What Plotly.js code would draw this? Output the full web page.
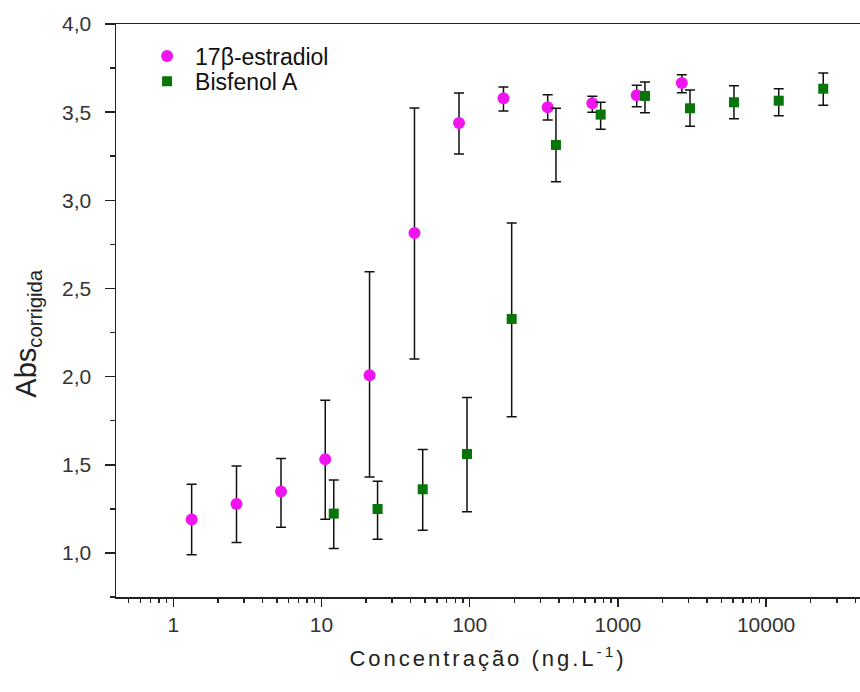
<!DOCTYPE html>
<html>
<head>
<meta charset="utf-8">
<script src="https://cdn.plot.ly/plotly-3.0.1.min.js"></script>
<style>
html,body{margin:0;padding:0;background:#fff;}
#chart{width:860px;height:692px;}
</style>
</head>
<body>
<div id="chart"></div>
<script>
// ---- data ----
const estradiolX = [1.33, 2.67, 5.33, 10.6, 21.1, 42.4, 84.7, 169, 336, 672, 1340, 2700];
const estradiolY = [1.19, 1.277, 1.349, 1.531, 2.008, 2.814, 3.439, 3.579, 3.528, 3.55, 3.596, 3.665];
const estradiolErrUp = [0.20, 0.216, 0.186, 0.335, 0.587, 0.71, 0.17, 0.064, 0.071, 0.04, 0.056, 0.047];
const estradiolErrDown = [0.201, 0.218, 0.203, 0.34, 0.578, 0.714, 0.176, 0.072, 0.072, 0.05, 0.065, 0.055];

const bisfenolX = [12.1, 23.9, 48.2, 95.9, 192, 382, 765, 1523, 3066, 6070, 12170, 24300];
const bisfenolY = [1.223, 1.249, 1.361, 1.561, 2.327, 3.314, 3.486, 3.592, 3.522, 3.556, 3.565, 3.633];
const bisfenolErrUp = [0.19, 0.157, 0.226, 0.321, 0.544, 0.208, 0.07, 0.079, 0.104, 0.094, 0.068, 0.089];
const bisfenolErrDown = [0.198, 0.171, 0.232, 0.327, 0.555, 0.209, 0.083, 0.095, 0.102, 0.093, 0.085, 0.094];

const xTickVals = [1, 10, 100, 1000, 10000];
const xTickText = ["1", "10", "100", "1000", "10000"];
const yTickVals = [1.0, 1.5, 2.0, 2.5, 3.0, 3.5, 4.0];
const yTickText = ["1,0", "1,5", "2,0", "2,5", "3,0", "3,5", "4,0"];

const seriesNames = ["17β-estradiol", "Bisfenol A"];

// minor tick positions for log axis (2..9 of each decade)
const xMinor = [];
for (let e = -1; e <= 4; e++) {
  for (let d = 2; d <= 9; d++) xMinor.push(d * Math.pow(10, e));
}

const FONT = "Liberation Sans, Arial, sans-serif";
const magenta = "#f015f0";
const green = "#087508";

const errStyle = {type: "data", symmetric: false, color: "#111", thickness: 1.5, width: 5};

const traces = [
  {
    x: estradiolX, y: estradiolY, name: seriesNames[0], type: "scatter", mode: "markers",
    marker: {symbol: "circle", size: 12, color: magenta},
    error_y: Object.assign({}, errStyle, {array: estradiolErrUp, arrayminus: estradiolErrDown}),
    legend: "legend"
  },
  {
    x: bisfenolX, y: bisfenolY, name: seriesNames[1], type: "scatter", mode: "markers",
    marker: {symbol: "square", size: 10, color: green},
    error_y: Object.assign({}, errStyle, {array: bisfenolErrUp, arrayminus: bisfenolErrDown}),
    legend: "legend2"
  }
];

const legendCommon = {
  font: {family: FONT, size: 23, color: "#111"},
  bgcolor: "rgba(0,0,0,0)", borderwidth: 0,
  xref: "paper", yref: "paper", xanchor: "left", yanchor: "middle",
  itemwidth: 46
};

const layout = {
  width: 860, height: 692,
  margin: {l: 116, r: 0, t: 24, b: 95, pad: 0},
  paper_bgcolor: "#fff", plot_bgcolor: "#fff",
  font: {family: FONT, size: 21, color: "#333"},
  showlegend: true,
  xaxis: {
    type: "log",
    range: [-0.3866, 4.6336],
    showgrid: false, zeroline: false,
    showline: true, linecolor: "#222", linewidth: 1.5, mirror: true,
    ticks: "outside", ticklen: 8, tickwidth: 1.5, tickcolor: "#222",
    tickmode: "array", tickvals: xTickVals, ticktext: xTickText,
    tickfont: {family: FONT, size: 21, color: "#333"},
    minor: {tickmode: "array", tickvals: xMinor, ticks: "outside", ticklen: 4, tickwidth: 1.5, tickcolor: "#222", showgrid: false},
    title: {text: "Concentração (ng.L<sup>-1</sup>)", font: {family: FONT, size: 22, color: "#222"}, standoff: 16}
  },
  yaxis: {
    range: [0.75, 4.0],
    showgrid: false, zeroline: false,
    showline: true, linecolor: "#222", linewidth: 1.5, mirror: false,
    ticks: "outside", ticklen: 10, tickwidth: 1.5, tickcolor: "#222",
    tickmode: "array", tickvals: yTickVals, ticktext: yTickText,
    tickfont: {family: FONT, size: 21, color: "#333"},
    ticklabelstandoff: 9,
    minor: {dtick: 0.25, tick0: 0, ticks: "outside", ticklen: 5, tickwidth: 1.5, tickcolor: "#222", showgrid: false}
  },
  legend: Object.assign({}, legendCommon, {x: 0.031, y: 0.944}),
  legend2: Object.assign({}, legendCommon, {x: 0.031, y: 0.900}),
  annotations: [{
    text: "Abs<sub>corrigida</sub>",
    xref: "paper", yref: "paper", x: -0.118, y: 0.46,
    xanchor: "center", yanchor: "middle", textangle: -90, showarrow: false,
    font: {family: FONT, size: 29, color: "#222"}
  }]
};

Plotly.newPlot("chart", traces, layout, {staticPlot: true}).then(function () {
  const t = document.querySelector(".g-xtitle text");
  if (t) t.style.letterSpacing = "3px";
});
</script>
</body>
</html>
